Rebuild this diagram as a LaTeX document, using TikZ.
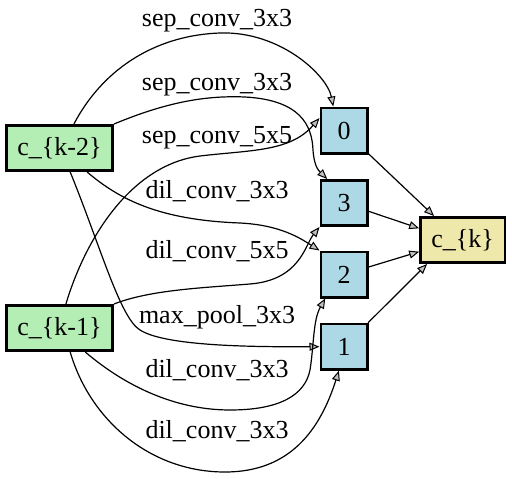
\documentclass[tikz,border=0pt]{standalone}
\usepackage{fontspec}
\setmainfont{Liberation Serif}
\usetikzlibrary{arrows.meta}
\definecolor{kgreen}{HTML}{B4EEB4}
\definecolor{kblue}{HTML}{ADD8E6}
\definecolor{kyellow}{HTML}{EEE8AA}
\begin{document}
\begin{tikzpicture}[x=1pt,y=-1pt,
  basebox/.style={draw=black, line width=2.6pt, inner sep=0pt, minimum height=45.4pt, font=\fontsize{26}{30}\selectfont},
  inbox/.style={basebox, fill=kgreen, minimum width=106.4pt},
  opbox/.style={basebox, fill=kblue, minimum width=46.4pt},
  outbox/.style={basebox, fill=kyellow, minimum width=84.4pt},
  edge/.style={draw=black, line width=1.2pt, -{Triangle[length=10pt,width=8pt,fill=gray!50,line width=1pt]}},
  lab/.style={anchor=base, inner sep=0pt, font=\fontsize{26}{30}\selectfont}]
\useasboundingbox (0,0) rectangle (512,479);

\node[inbox] (k2) at (59.5,148) {c\_\{k-2\}};
\node[inbox] (k1) at (59.5,328) {c\_\{k-1\}};
\node[opbox] (n0) at (344,130.5) {0};
\node[opbox] (n3) at (344,203) {3};
\node[opbox] (n2) at (344,274.5) {2};
\node[opbox] (n1) at (344,346.7) {1};
\node[outbox] (ck) at (462.7,240) {c\_\{k\}};

\draw[edge] (k2.59) .. controls (105,65) and (160,35) .. (220,33) .. controls (280,31) and (327,75) .. (n0.114);
\draw[edge] (k2.north east) .. controls (160,105) and (200,95) .. (245,97) .. controls (300,100) and (312,125) .. (313,150) .. controls (314,165) and (318,170) .. (n3.125);
\draw[edge] (k1.75) .. controls (85,240) and (130,165) .. (200,156) .. controls (250,150) and (290,152) .. (n0.153);
\draw[edge] (k2.-41) .. controls (120,200) and (160,220) .. (240,223) .. controls (280,225) and (300,238) .. (n2.north west);
\draw[edge] (k1.north east) .. controls (150,290) and (200,288) .. (250,284) .. controls (300,280) and (305,245) .. (n3.south west);
\draw[edge] (k2.-66) .. controls (100,245) and (120,318) .. (140,330) .. controls (165,346) and (250,347) .. (n1.west);
\draw[edge] (k1.-43) .. controls (130,390) and (180,410) .. (230,410) .. controls (280,410) and (305,395) .. (310,370) .. controls (314,345) and (313,320) .. (n2.-128);
\draw[edge] (k1.-66) .. controls (90,420) and (150,472) .. (225,472) .. controls (290,472) and (320,430) .. (n1.-102);

\draw[edge] (n0) -- (ck.140);
\draw[edge] (n3) -- (ck.165);
\draw[edge] (n2) -- (ck.195);
\draw[edge] (n1) -- (ck.-146);

\node[lab] (l1) at (217,27) {sep\_conv\_3x3};
\node[lab] (l2) at (217,90) {sep\_conv\_3x3};
\node[lab] (l3) at (217,143) {sep\_conv\_5x5};
\node[lab] (l4) at (217,198) {dil\_conv\_3x3};
\node[lab] (l5) at (217,258) {dil\_conv\_5x5};
\node[lab] (l6) at (217,323) {max\_pool\_3x3};
\node[lab] (l7) at (217,377) {dil\_conv\_3x3};
\node[lab] (l8) at (217,438) {dil\_conv\_3x3};
\end{tikzpicture}
\end{document}
